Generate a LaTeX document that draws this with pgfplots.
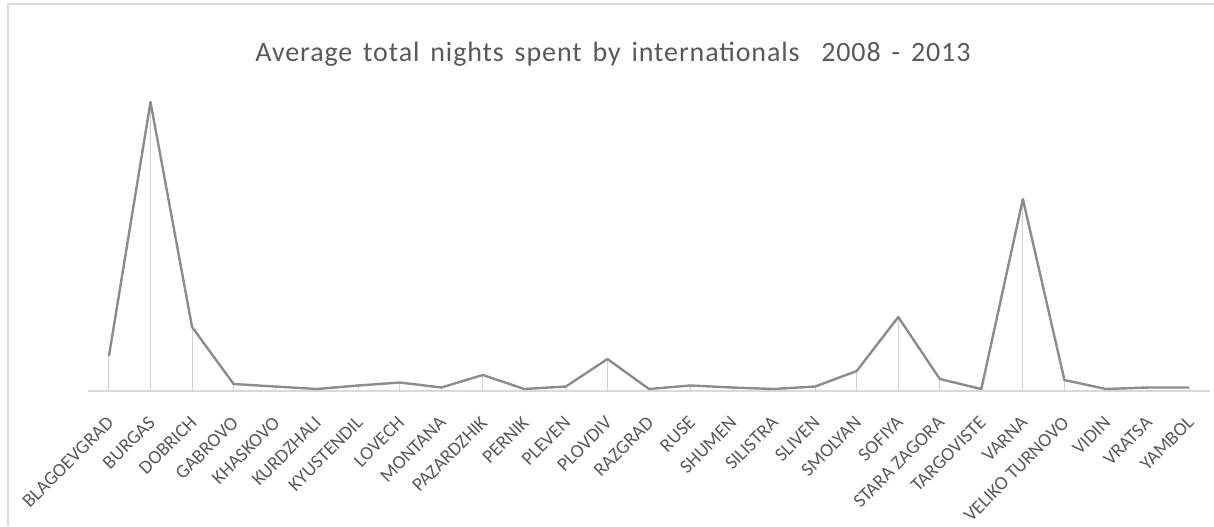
\documentclass[border=0pt]{standalone}
\usepackage{pgfplots}
\pgfplotsset{compat=1.18}
\usepackage{fontspec}
\setmainfont{Carlito}
\newfontfamily\titlefont[LetterSpace=3.2, WordSpace=1.5]{Carlito}
\definecolor{titlegray}{HTML}{595959}
\definecolor{labelgray}{HTML}{595959}
\definecolor{linegray}{HTML}{8C8C8C}
\definecolor{dropgray}{HTML}{D0D0D0}
\definecolor{framegray}{HTML}{D9D9D9}
\begin{document}
\begin{tikzpicture}
\useasboundingbox (0pt,0pt) rectangle (607pt,263pt);
\draw[framegray, line width=0.6pt] (4pt,0pt) -- (4pt,261pt) -- (607pt,261pt);
\node[titlegray, anchor=base, inner sep=0pt, font=\titlefont\fontsize{14}{17}\selectfont] at (306.5pt,232pt) {Average total nights spent by internationals\ \ 2008 - 2013};
\begin{axis}[
  at={(44.1pt,67.5pt)}, anchor=south west,
  scale only axis, width=560.8pt, height=150pt,
  xmin=-0.5, xmax=26.5, ymin=0, ymax=300,
  axis x line*=bottom, axis y line=none,
  x axis line style={draw=framegray, line width=0.6pt},
  xtick=data, major tick length=0pt,
  xticklabels={BLAGOEVGRAD,BURGAS,DOBRICH,GABROVO,KHASKOVO,KURDZHALI,KYUSTENDIL,LOVECH,MONTANA,PAZARDZHIK,PERNIK,PLEVEN,PLOVDIV,RAZGRAD,RUSE,SHUMEN,SILISTRA,SLIVEN,SMOLYAN,SOFIYA,STARA ZAGORA,TARGOVISTE,VARNA,VELIKO TURNOVO,VIDIN,VRATSA,YAMBOL},
  xticklabel style={yshift=-13.5pt, xshift=1.5pt, rotate=45, anchor=east, inner sep=1pt, text=labelgray, font=\fontsize{9.6}{11}\selectfont},
  clip=false,
]
\addplot[ycomb, draw=dropgray, line width=0.5pt, no markers] table {
x y
0 35
1 289
2 64
3 7
4 4.5
5 2
6 5.5
7 8.5
8 3.5
9 16
10 2
11 4.5
12 32
13 2
14 5.5
15 3.5
16 2
17 4.5
18 20
19 74
20 12
21 2
22 192
23 11
24 2
25 3.5
26 3.5
};
\addplot[draw=linegray, line width=1.2pt, no markers, line join=round] table {
x y
0 35
1 289
2 64
3 7
4 4.5
5 2
6 5.5
7 8.5
8 3.5
9 16
10 2
11 4.5
12 32
13 2
14 5.5
15 3.5
16 2
17 4.5
18 20
19 74
20 12
21 2
22 192
23 11
24 2
25 3.5
26 3.5
};
\end{axis}
\end{tikzpicture}
\end{document}
